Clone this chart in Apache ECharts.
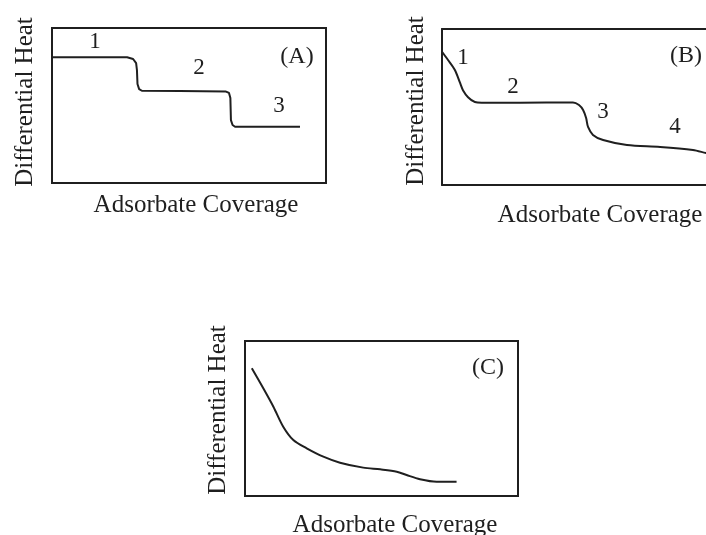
<!DOCTYPE html>
<html>
<head>
<meta charset="utf-8">
<script src="https://cdn.jsdelivr.net/npm/echarts@6/dist/echarts.min.js"></script>
<style>
html,body{margin:0;padding:0;background:#fff;}
#main{width:706px;height:535px;}
</style>
</head>
<body>
<div id="main"></div>
<script>
// Curve data: [coverage (0-100), differential heat (0-100)]
const curveA = [
  [0, 81.1], [27.4, 81.1], [29.6, 80.0], [30.7, 77.4], [31.0, 72.9], [31.2, 63.9],
  [31.8, 60.6], [32.8, 59.5], [46.7, 59.4], [63.5, 59.0], [64.6, 58.1], [65.1, 54.8],
  [65.3, 40.6], [65.9, 37.4], [66.8, 36.3], [90.5, 36.3]
];
const curveB = [
  [0, 85.4], [2.2, 80.1], [4.7, 73.7], [6.6, 65.4], [7.7, 60.6], [9.5, 56.3],
  [12.0, 53.2], [14.5, 52.8], [28.5, 52.8], [47.8, 52.9], [50.0, 51.3], [51.5, 48.1], [52.6, 42.9],
  [53.3, 37.2], [55.1, 32.1], [58.8, 28.8], [67.5, 25.6], [79.6, 24.4], [91.6, 22.4],
  [96.4, 20.5], [100, 19.3]
];
const curveC = [
  [2.5, 82.4], [6.7, 69.5], [10.4, 57.6], [14.0, 44.7], [17.7, 36.1], [22.6, 30.8],
  [28.7, 25.4], [34.8, 21.5], [43.3, 18.3], [49.5, 17.2], [55.6, 15.7], [59.2, 13.5],
  [64.1, 10.8], [70.2, 9.2], [77.5, 9.2]
];
const panelTags = ['(A)', '(B)', '(C)'];
const regionLabelsA = ['1', '2', '3'];
const regionLabelsB = ['1', '2', '3', '4'];
const xTitle = 'Adsorbate Coverage';
const yTitle = 'Differential Heat';

const ink = '#1f1f1f';
const font = '"Liberation Serif", "DejaVu Serif", serif';

const chart = echarts.init(document.getElementById('main'), null, {renderer: 'canvas'});

const grids = [
  {left: 52, top: 28, width: 274, height: 155, show: true, borderColor: ink, borderWidth: 2, outerBoundsMode: 'none'},
  // panel B runs off the right edge of the picture: frame drawn by its axis lines only
  {left: 442, top: 29, width: 274, height: 156, show: false, outerBoundsMode: 'none'},
  {left: 245, top: 341, width: 273, height: 155, show: true, borderColor: ink, borderWidth: 2, outerBoundsMode: 'none'}
];

function axis(i, pos, lineShown) {
  return {type: 'value', gridIndex: i, min: 0, max: 100, position: pos,
    axisLine: {show: lineShown, onZero: false, lineStyle: {color: ink, width: 2}},
    axisTick: {show: false}, axisLabel: {show: false}, splitLine: {show: false}};
}
function lineSeries(i, data, smooth) {
  return {type: 'line', xAxisIndex: i, yAxisIndex: i, data: data, showSymbol: false, symbol: 'none',
    smooth: smooth, lineStyle: {color: ink, width: 2}, silent: true, animation: false, z: 3};
}
function txt(x, y, s, size, extra) {
  return Object.assign({type: 'text', x: x, y: y,
    style: {text: s, fill: ink, font: size + 'px ' + font, align: 'center', verticalAlign: 'middle'}}, extra || {});
}

const graphics = [
  // Panel A
  txt(196, 205, xTitle, 25),
  txt(25, 102, yTitle, 25, {rotation: Math.PI / 2}),
  txt(297, 57, panelTags[0], 24),
  txt(95, 42, regionLabelsA[0], 23),
  txt(199, 68, regionLabelsA[1], 23),
  txt(279, 106, regionLabelsA[2], 23),
  // Panel B
  txt(600, 215, xTitle, 25),
  txt(416, 101, yTitle, 25, {rotation: Math.PI / 2}),
  txt(686, 56, panelTags[1], 24),
  txt(463, 58, regionLabelsB[0], 23),
  txt(513, 87, regionLabelsB[1], 23),
  txt(603, 112, regionLabelsB[2], 23),
  txt(675, 127, regionLabelsB[3], 23),
  // Panel C
  txt(395, 525, xTitle, 25),
  txt(218, 410, yTitle, 25, {rotation: Math.PI / 2}),
  txt(488, 368, panelTags[2], 24)
];

chart.setOption({
  animation: false,
  backgroundColor: '#fff',
  grid: grids,
  xAxis: [axis(0, 'bottom', false), axis(1, 'bottom', true), axis(2, 'bottom', false), axis(1, 'top', true)],
  yAxis: [axis(0, 'left', false), axis(1, 'left', true), axis(2, 'left', false)],
  series: [
    lineSeries(0, curveA, false),
    lineSeries(1, curveB, 0.3),
    lineSeries(2, curveC, 0.3)
  ],
  graphic: graphics
});
</script>
</body>
</html>
